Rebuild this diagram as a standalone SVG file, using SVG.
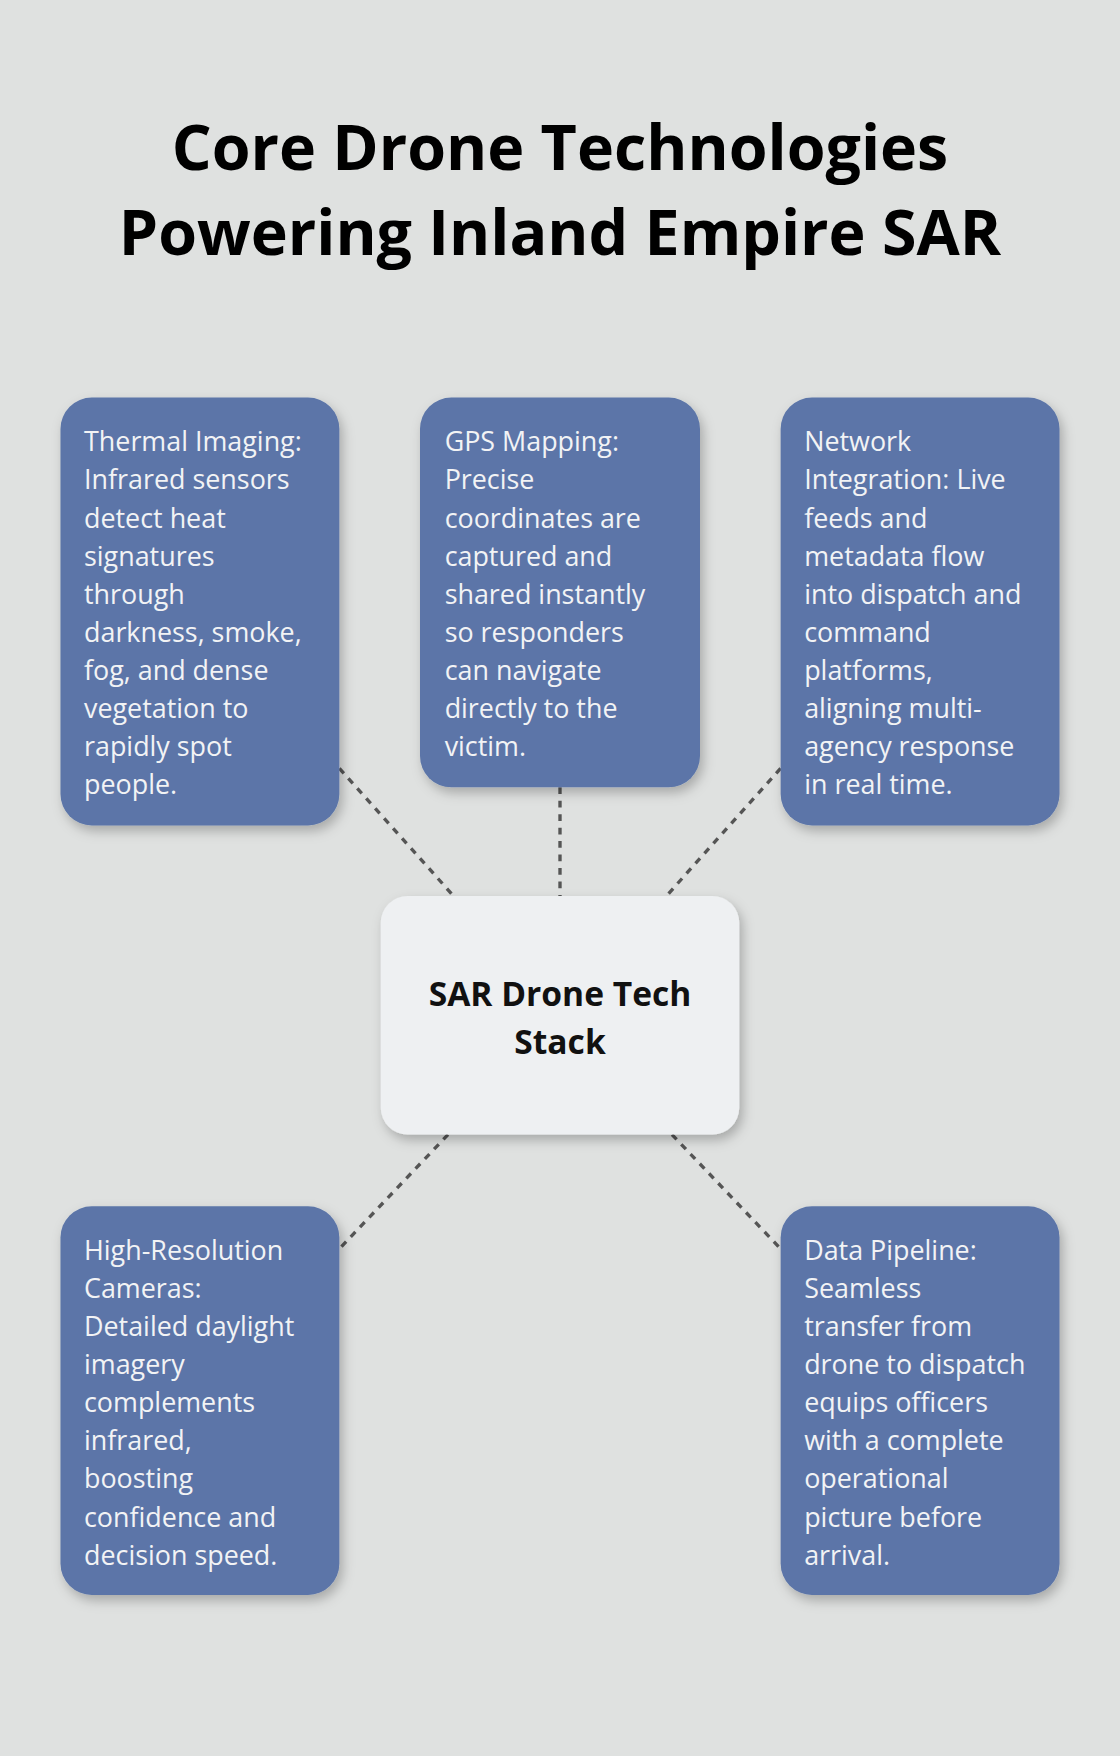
<svg xmlns="http://www.w3.org/2000/svg" width="1120" height="1756" viewBox="0 0 1120 1756">
<defs>
<filter id="sh" x="-20%" y="-20%" width="140%" height="140%"><feDropShadow dx="3" dy="5" stdDeviation="5" flood-color="#000" flood-opacity="0.25"/></filter>
<style>
.box{fill:#5b75a8;filter:url(#sh)}
.t{font-family:"Open Sans","Noto Sans",sans-serif;font-size:24px;fill:#f2f3f5}
.title{font-family:"Open Sans","Noto Sans",sans-serif;font-size:56px;font-weight:bold;fill:#000;text-anchor:middle}
.c{font-family:"Open Sans","Noto Sans",sans-serif;font-size:30px;font-weight:bold;fill:#111;text-anchor:middle}
.ln{stroke:#555;stroke-width:3;stroke-dasharray:6 6;fill:none}
</style>
</defs>
<rect width="1120" height="1756" fill="#dfe1e0"/>
<g transform="scale(1.12)">
<text class="title" x="500" y="152">Core Drone Technologies</text>
<text class="title" x="500" y="228">Powering Inland Empire SAR</text>
<g id="connectors">
<line class="ln" x1="303" y1="686" x2="405" y2="800"/>
<line class="ln" x1="500" y1="703" x2="500" y2="800"/>
<line class="ln" x1="697" y1="686" x2="595" y2="800"/>
<line class="ln" x1="400" y1="1013" x2="303" y2="1115"/>
<line class="ln" x1="600" y1="1013" x2="697" y2="1115"/>
</g>
<g id="center"><rect x="340" y="800" width="320" height="213" rx="24" fill="#eef0f2" filter="url(#sh)"/>
<text class="c" x="500" y="898">SAR Drone Tech</text><text class="c" x="500" y="941">Stack</text></g>
<g id="thermal"><rect class="box" x="54" y="355" width="249" height="382" rx="28"/>
<text class="t" x="75" y="403"><tspan x="75">Thermal Imaging:</tspan><tspan x="75" dy="34">Infrared sensors</tspan><tspan x="75" dy="34">detect heat</tspan><tspan x="75" dy="34">signatures</tspan><tspan x="75" dy="34">through</tspan><tspan x="75" dy="34">darkness, smoke,</tspan><tspan x="75" dy="34">fog, and dense</tspan><tspan x="75" dy="34">vegetation to</tspan><tspan x="75" dy="34">rapidly spot</tspan><tspan x="75" dy="34">people.</tspan></text></g>
<g id="gps"><rect class="box" x="375" y="355" width="250" height="348" rx="28"/>
<text class="t" x="397" y="403"><tspan x="397">GPS Mapping:</tspan><tspan x="397" dy="34">Precise</tspan><tspan x="397" dy="34">coordinates are</tspan><tspan x="397" dy="34">captured and</tspan><tspan x="397" dy="34">shared instantly</tspan><tspan x="397" dy="34">so responders</tspan><tspan x="397" dy="34">can navigate</tspan><tspan x="397" dy="34">directly to the</tspan><tspan x="397" dy="34">victim.</tspan></text></g>
<g id="network"><rect class="box" x="697" y="355" width="249" height="382" rx="28"/>
<text class="t" x="718" y="403"><tspan x="718">Network</tspan><tspan x="718" dy="34">Integration: Live</tspan><tspan x="718" dy="34">feeds and</tspan><tspan x="718" dy="34">metadata flow</tspan><tspan x="718" dy="34">into dispatch and</tspan><tspan x="718" dy="34">command</tspan><tspan x="718" dy="34">platforms,</tspan><tspan x="718" dy="34">aligning multi-</tspan><tspan x="718" dy="34">agency response</tspan><tspan x="718" dy="34">in real time.</tspan></text></g>
<g id="cameras"><rect class="box" x="54" y="1077" width="249" height="347" rx="28"/>
<text class="t" x="75" y="1125"><tspan x="75">High-Resolution</tspan><tspan x="75" dy="34">Cameras:</tspan><tspan x="75" dy="34">Detailed daylight</tspan><tspan x="75" dy="34">imagery</tspan><tspan x="75" dy="34">complements</tspan><tspan x="75" dy="34">infrared,</tspan><tspan x="75" dy="34">boosting</tspan><tspan x="75" dy="34">confidence and</tspan><tspan x="75" dy="34">decision speed.</tspan></text></g>
<g id="pipeline"><rect class="box" x="697" y="1077" width="249" height="347" rx="28"/>
<text class="t" x="718" y="1125"><tspan x="718">Data Pipeline:</tspan><tspan x="718" dy="34">Seamless</tspan><tspan x="718" dy="34">transfer from</tspan><tspan x="718" dy="34">drone to dispatch</tspan><tspan x="718" dy="34">equips officers</tspan><tspan x="718" dy="34">with a complete</tspan><tspan x="718" dy="34">operational</tspan><tspan x="718" dy="34">picture before</tspan><tspan x="718" dy="34">arrival.</tspan></text></g>
</g>
</svg>
